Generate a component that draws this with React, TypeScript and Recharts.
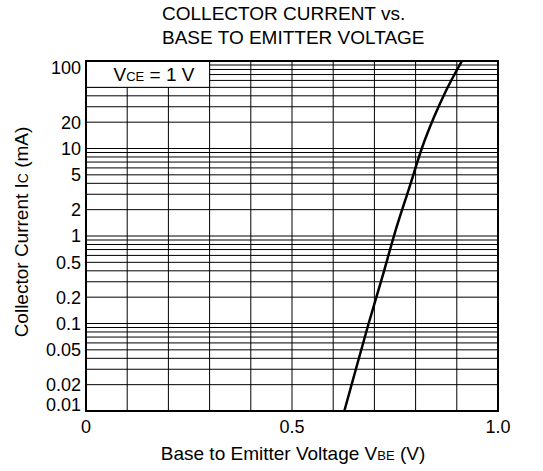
import React from 'react';
import { LineChart, Line, XAxis, YAxis, CartesianGrid, ReferenceArea, Label } from 'recharts';

// curve (V_BE in volts, I_C in mA)
const vbe = [0.627, 0.655, 0.686, 0.72, 0.75, 0.785, 0.815, 0.845, 0.87, 0.9125];
const ic = [0.01, 0.03, 0.1, 0.35, 1.1, 3.6, 10, 23, 42, 100];

const xTicks = [0, 0.1, 0.2, 0.3, 0.4, 0.5, 0.6, 0.7, 0.8, 0.9, 1.0];
const xLabels = [0, 0.5, 1.0];

const decades = [0.01, 0.1, 1, 10];
const steps = [1, 2, 3, 4, 5, 6, 7, 8, 9];
const yLabels = [100, 20, 10, 5, 2, 1, 0.5, 0.2, 0.1, 0.05, 0.02, 0.01];

const yTicks = [...decades.flatMap((d) => steps.map((m) => Number((d * m).toPrecision(3)))), 100];

const data = vbe.map((v, i) => ({ v, i: ic[i] }));

const FONT = '"Liberation Sans", Arial, sans-serif';

const XTick = (props: any) => {
  const { x, y, payload } = props;
  if (!xLabels.includes(payload.value)) return <g />;
  const txt = payload.value === 1 ? '1.0' : String(payload.value);
  return (
    <text x={x} y={y} dy="0.71em" textAnchor="middle" fontSize={18} fontFamily={FONT} fill="#000">
      {txt}
    </text>
  );
};

const YTick = (props: any) => {
  const { x, y, payload } = props;
  if (!yLabels.includes(payload.value)) return <g />;
  // end labels sit inside the frame like in the original drawing
  const shift = payload.value === 100 ? 7 : payload.value === 0.01 ? -6 : 0;
  return (
    <text x={x} y={y + shift} dy="0.36em" textAnchor="end" fontSize={18} fontFamily={FONT} fill="#000">
      {payload.value}
    </text>
  );
};

export default function App() {
  return (
    <div style={{ position: 'absolute', left: 0, top: 0, width: 543, height: 471, background: '#fff' }}>
      <div
        style={{
          position: 'absolute',
          left: 162,
          top: 2,
          fontFamily: FONT,
          fontSize: 19,
          lineHeight: '24px',
          whiteSpace: 'pre',
          color: '#000',
        }}
      >
        {'COLLECTOR CURRENT vs.\nBASE TO EMITTER VOLTAGE'}
      </div>
      <LineChart width={543} height={471} data={data} margin={{ top: 61, right: 45, bottom: 0, left: 0 }}>
        <CartesianGrid stroke="#000" strokeWidth={1} />
        <XAxis
          dataKey="v"
          type="number"
          domain={[0, 1]}
          ticks={xTicks}
          interval={0}
          height={60}
          tickSize={0}
          tickMargin={9}
          axisLine={false}
          tick={<XTick />}
        >
          <Label
            content={(p: any) => {
              const vb = p.viewBox;
              return (
                <text x={vb.x + vb.width / 2 + 1} y={vb.y + 49} textAnchor="middle" fontSize={19} fontFamily={FONT} fill="#000">
                  Base to Emitter Voltage V<tspan fontSize={13}>BE</tspan> (V)
                </text>
              );
            }}
          />
        </XAxis>
        <YAxis
          dataKey="i"
          type="number"
          scale="log"
          domain={[0.01, 100]}
          allowDataOverflow
          ticks={yTicks}
          interval={0}
          width={86}
          tickSize={0}
          tickMargin={5}
          axisLine={false}
          tick={<YTick />}
        >
          <Label
            content={(p: any) => {
              const vb = p.viewBox;
              const cx = vb.x + 28;
              const cy = vb.y + vb.height / 2 - 4;
              return (
                <text
                  x={cx}
                  y={cy}
                  transform={`rotate(-90, ${cx}, ${cy})`}
                  textAnchor="middle"
                  fontSize={19}
                  fontFamily={FONT}
                  fill="#000"
                >
                  Collector Current I<tspan fontSize={14}>C</tspan> (mA)
                </text>
              );
            }}
          />
        </YAxis>
        <ReferenceArea
          x1={0}
          x2={0.3}
          y1={50}
          y2={100}
          fill="#fff"
          fillOpacity={1}
          stroke="#000"
          strokeWidth={1}
          label={(p: any) => {
            const vb = p.viewBox;
            return (
              <text x={vb.x + 68} y={vb.y + 20} textAnchor="middle" fontSize={19} fontFamily={FONT} fill="#000">
                V<tspan fontSize={13}>CE</tspan> = 1 V
              </text>
            );
          }}
        />
        <ReferenceArea x1={0} x2={1} y1={0.01} y2={100} fill="none" stroke="#000" strokeWidth={2} />
        <Line
          dataKey="i"
          type="monotone"
          stroke="#000"
          strokeWidth={2.5}
          dot={false}
          isAnimationActive={false}
        />
      </LineChart>
    </div>
  );
}
